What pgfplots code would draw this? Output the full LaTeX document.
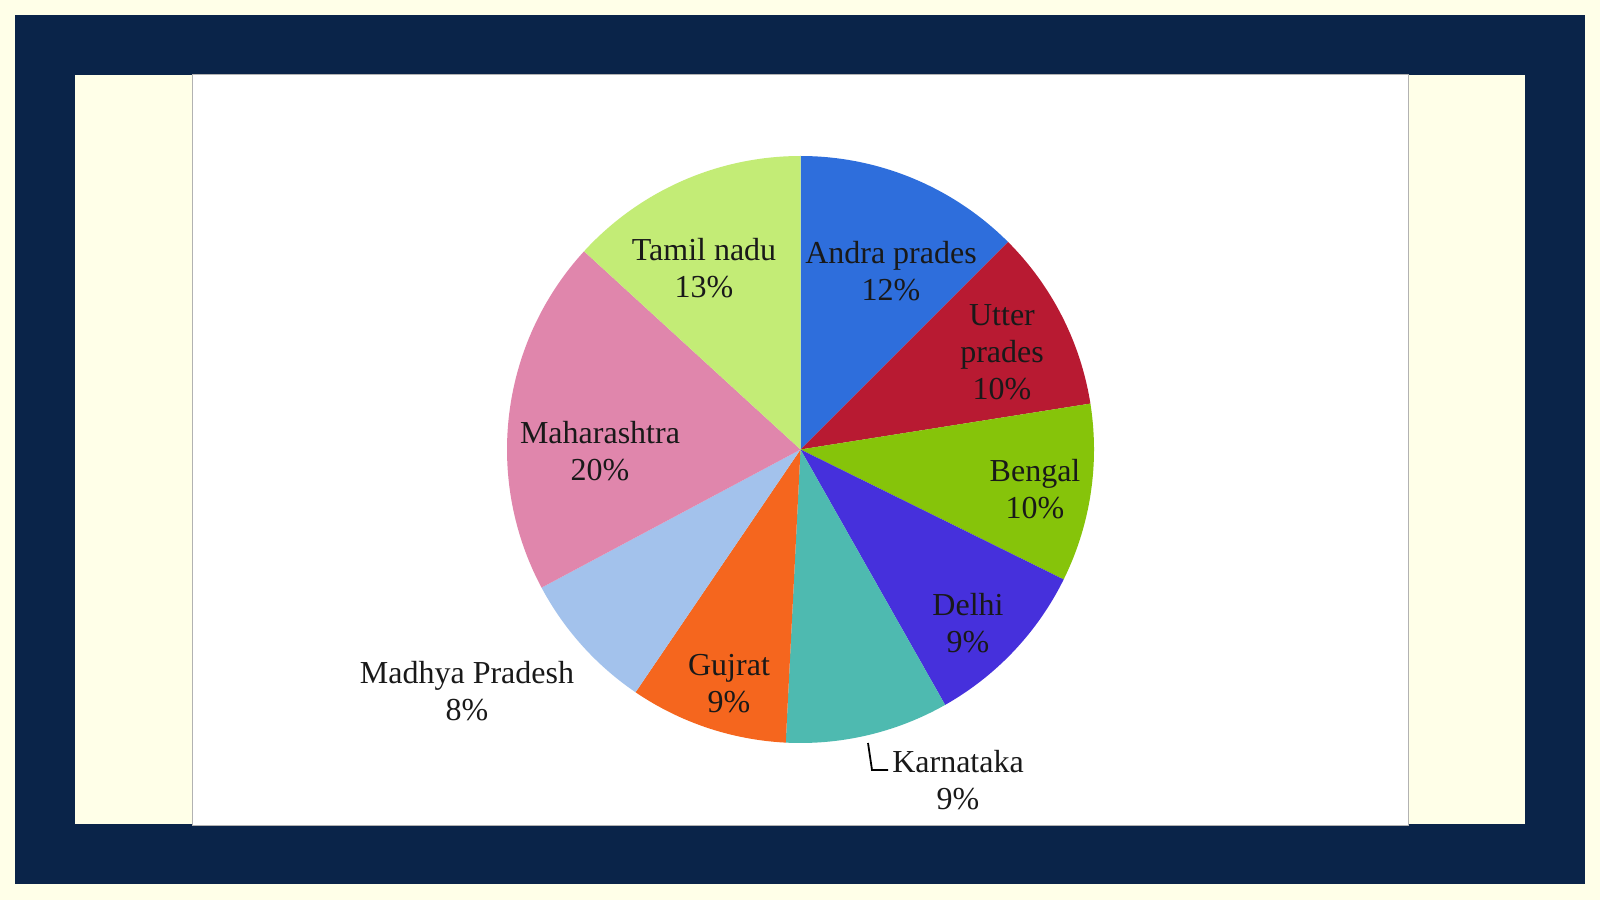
\documentclass[border=0pt]{standalone}
\usepackage{pgfplots}
\usepackage{pgfplotstable}
\pgfplotsset{compat=1.18}
\usepackage{fontspec}
\setmainfont{Liberation Serif}
\definecolor{cA}{HTML}{2E6EDC}
\definecolor{cB}{HTML}{B81A32}
\definecolor{cC}{HTML}{86C40A}
\definecolor{cD}{HTML}{4630DC}
\definecolor{cE}{HTML}{4EBAB0}
\definecolor{cF}{HTML}{F5661E}
\definecolor{cG}{HTML}{A3C2EC}
\definecolor{cH}{HTML}{E086AC}
\definecolor{cI}{HTML}{C3EC76}
\definecolor{cream}{HTML}{FFFFE8}
\definecolor{navy}{HTML}{0A2449}
\pgfplotstableread{
name value
Andra 12.5
Utter 10
Bengal 9.8
Delhi 9.5
Karnataka 9
Gujrat 8.7
Madhya 7.7
Maharashtra 19.6
Tamil 13.2
}\piedata
\tikzset{lbl/.style={font=\fontsize{32}{37}\selectfont, align=center, text=black!90, inner sep=0pt}}
\xdef\acc{0}
\expandafter\xdef\csname ang0\endcsname{90}
\pgfplotsforeachungrouped \i in {0,...,8}{%
  \pgfplotstablegetelem{\i}{value}\of\piedata
  \pgfmathsetmacro\tmpacc{\acc+\pgfplotsretval}%
  \xdef\acc{\tmpacc}%
  \pgfmathtruncatemacro\j{\i+1}%
  \pgfmathsetmacro\tmp{90-3.6*\acc}%
  \expandafter\xdef\csname ang\j\endcsname{\tmp}%
}
\newcommand\slice[2]{%
  \addplot[fill=#2, draw=none, variable=\t, samples=90,
    domain={\csname ang\the\numexpr#1+1\endcsname}:{\csname ang#1\endcsname}]
    ({800.5+293.5*cos(\t)},{450.5+293.5*sin(\t)}) -- (axis cs:800.5,450.5) -- cycle;}
\begin{document}%
\begin{tikzpicture}[x=1pt,y=1pt]
\fill[cream] (0,0) rectangle (1600,900);
\fill[navy] (15,16) rectangle (1585,885);
\fill[cream] (75,76) rectangle (1525,825);
\filldraw[fill=white, draw=black!30, line width=1pt] (192,75) rectangle (1408,825);
\begin{axis}[at={(0,0)}, anchor=south west, scale only axis, width=1600pt, height=900pt,
  xmin=0, xmax=1600, ymin=0, ymax=900, hide axis, clip=false]
\slice{0}{cA}
\slice{1}{cB}
\slice{2}{cC}
\slice{3}{cD}
\slice{4}{cE}
\slice{5}{cF}
\slice{6}{cG}
\slice{7}{cH}
\slice{8}{cI}
\node[lbl] at (axis cs:704,632) {Tamil nadu\\13\%};
\node[lbl] at (axis cs:891,629) {Andra prades\\12\%};
\node[lbl] at (axis cs:1002,548) {Utter\\prades\\10\%};
\node[lbl] at (axis cs:1035,411) {Bengal\\10\%};
\node[lbl] at (axis cs:968,277) {Delhi\\9\%};
\node[lbl] at (axis cs:958,120) {Karnataka\\9\%};
\node[lbl] at (axis cs:729,216) {Gujrat\\9\%};
\node[lbl] at (axis cs:467,209) {Madhya Pradesh\\8\%};
\node[lbl] at (axis cs:600,449) {Maharashtra\\20\%};
\end{axis}
\draw[black, line width=1.8pt] (868,157) -- (872,130) -- (888,130);
\pgfresetboundingbox
\useasboundingbox (0,0) rectangle (1600,900);
\end{tikzpicture}%
\end{document}
